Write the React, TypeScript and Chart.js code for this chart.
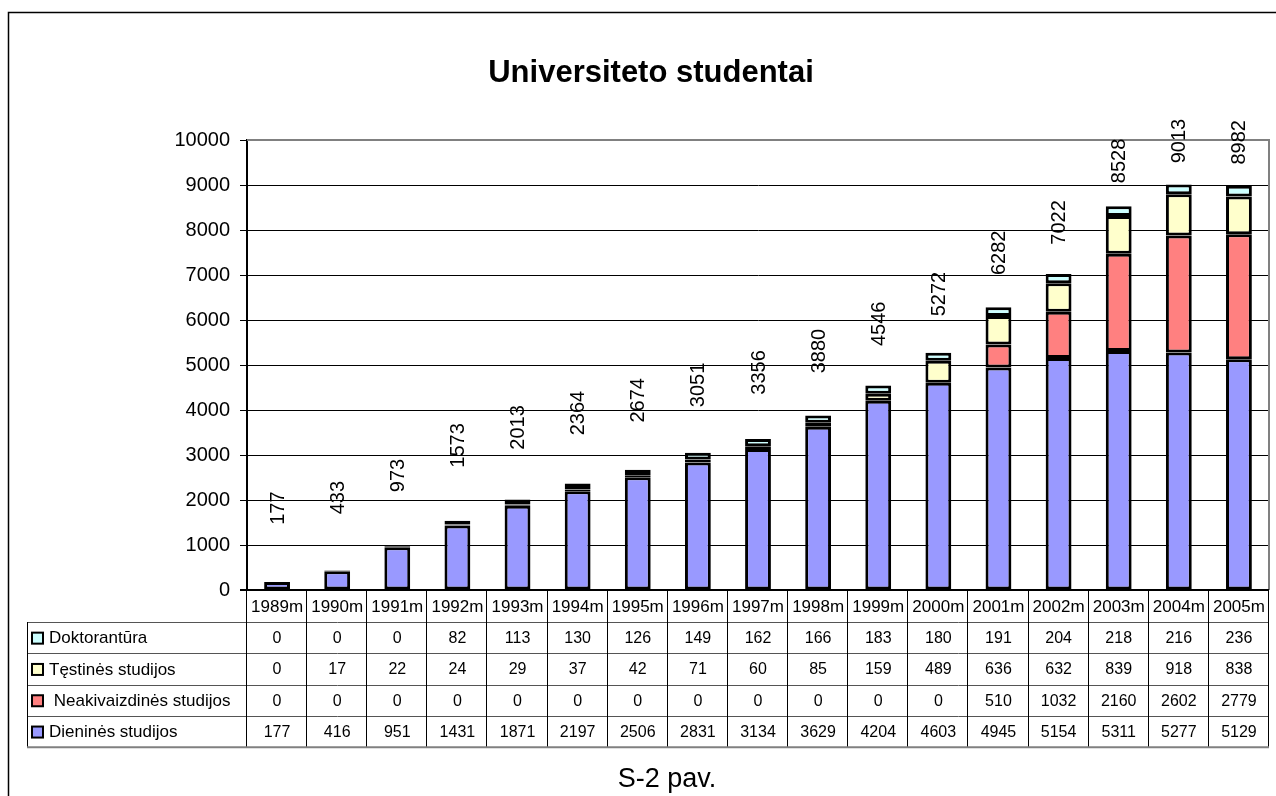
import React, { useEffect, useRef } from 'react';
import { Chart, registerables } from 'chart.js';

Chart.register(...registerables);

const years = ['1989m', '1990m', '1991m', '1992m', '1993m', '1994m', '1995m', '1996m', '1997m', '1998m', '1999m', '2000m', '2001m', '2002m', '2003m', '2004m', '2005m'];
const dieninesStudijos = [177, 416, 951, 1431, 1871, 2197, 2506, 2831, 3134, 3629, 4204, 4603, 4945, 5154, 5311, 5277, 5129];
const neakivaizdinesStudijos = [0, 0, 0, 0, 0, 0, 0, 0, 0, 0, 0, 0, 510, 1032, 2160, 2602, 2779];
const testinesStudijos = [0, 17, 22, 24, 29, 37, 42, 71, 60, 85, 159, 489, 636, 632, 839, 918, 838];
const doktorantura = [0, 0, 0, 82, 113, 130, 126, 149, 162, 166, 183, 180, 191, 204, 218, 216, 236];
const totalLabels = [177, 433, 973, 1573, 2013, 2364, 2674, 3051, 3356, 3880, 4546, 5272, 6282, 7022, 8528, 9013, 8982];
const yMin = 0;
const yMax = 10000;
const yStep = 1000;

const chartTitle = 'Universiteto studentai';
const footerText = 'S-2 pav.';

const seriesNames = ['Dieninės studijos', ' Neakivaizdinės studijos', 'Tęstinės studijos', 'Doktorantūra'];
const seriesColors = ['#9999FF', '#FF8080', '#FFFFCC', '#CCFFFF'];
const seriesData = [dieninesStudijos, neakivaizdinesStudijos, testinesStudijos, doktorantura];

const FONT = '"Liberation Sans", Arial, Helvetica, sans-serif';

const decorPlugin = {
  id: 'decor',
  beforeDraw(chart: any) {
    const ctx = chart.ctx;
    ctx.save();
    ctx.fillStyle = '#ffffff';
    ctx.fillRect(0, 0, chart.width, chart.height);
    ctx.strokeStyle = '#000';
    ctx.lineWidth = 1.5;
    ctx.beginPath();
    ctx.moveTo(8.5, chart.height + 2);
    ctx.lineTo(8.5, 12.5);
    ctx.lineTo(chart.width + 2, 12.5);
    ctx.stroke();
    ctx.restore();
  },
  afterDraw(chart: any) {
    const ctx = chart.ctx;
    const ca = chart.chartArea;
    const xs = chart.scales.x;
    const n = years.length;
    const colW = ca.width / n;
    ctx.save();

    // plot area border (top & right)
    ctx.strokeStyle = '#808080';
    ctx.lineWidth = 2;
    ctx.beginPath();
    ctx.moveTo(ca.left, ca.top);
    ctx.lineTo(ca.right, ca.top);
    ctx.lineTo(ca.right, ca.bottom);
    ctx.stroke();

    // x axis line
    ctx.strokeStyle = '#000';
    ctx.lineWidth = 2;
    ctx.beginPath();
    ctx.moveTo(ca.left - 7, ca.bottom);
    ctx.lineTo(ca.right, ca.bottom);
    ctx.stroke();

    // total labels (rotated)
    const meta = chart.getDatasetMeta(seriesData.length);
    ctx.fillStyle = '#000';
    ctx.font = `20px ${FONT}`;
    ctx.textAlign = 'left';
    ctx.textBaseline = 'middle';
    meta.data.forEach((pt: any, i: number) => {
      ctx.save();
      ctx.translate(xs.getPixelForValue(i) + 1, pt.y - 58);
      ctx.rotate(-Math.PI / 2);
      ctx.fillText(String(totalLabels[i]), 0, 0);
      ctx.restore();
    });

    // data table
    const legendLeft = 27;
    const headerTop = ca.bottom;
    const headerBottom = ca.bottom + 32;
    const rowH = 31.3;
    const tableBottom = headerBottom + rowH * 4;

    ctx.strokeStyle = '#555';
    ctx.lineWidth = 1;
    for (let r = 0; r <= 4; r++) {
      const y = Math.round(headerBottom + r * rowH) + 0.5;
      ctx.beginPath();
      ctx.moveTo(legendLeft, y);
      ctx.lineTo(ca.right, y);
      ctx.stroke();
    }
    ctx.strokeStyle = '#000';
    ctx.beginPath();
    ctx.moveTo(legendLeft + 0.5, headerBottom);
    ctx.lineTo(legendLeft + 0.5, tableBottom);
    ctx.stroke();
    for (let i = 0; i <= n; i++) {
      const x = Math.round(ca.left + i * colW) - 0.5;
      ctx.beginPath();
      ctx.moveTo(x, headerTop);
      ctx.lineTo(x, tableBottom);
      ctx.stroke();
    }
    ctx.strokeStyle = '#808080';
    ctx.lineWidth = 2;
    ctx.beginPath();
    ctx.moveTo(legendLeft, tableBottom);
    ctx.lineTo(ca.right, tableBottom);
    ctx.stroke();

    ctx.fillStyle = '#000';
    ctx.textAlign = 'center';
    ctx.textBaseline = 'middle';
    ctx.font = `17px ${FONT}`;
    years.forEach((yr, i) => {
      ctx.fillText(yr, xs.getPixelForValue(i), (headerTop + headerBottom) / 2 + 1);
    });

    const order = [3, 2, 1, 0];
    order.forEach((s, r) => {
      const cy = headerBottom + r * rowH + rowH / 2 + 1;
      ctx.fillStyle = seriesColors[s];
      ctx.fillRect(32, cy - 6, 11, 11);
      ctx.strokeStyle = '#000';
      ctx.lineWidth = 2;
      ctx.strokeRect(32, cy - 6, 11, 11);
      ctx.fillStyle = '#000';
      ctx.textAlign = 'left';
      ctx.font = `17px ${FONT}`;
      ctx.fillText(seriesNames[s], 49, cy);
      ctx.textAlign = 'center';
      ctx.font = `16px ${FONT}`;
      seriesData[s].forEach((v, i) => {
        ctx.fillText(String(v), xs.getPixelForValue(i), cy);
      });
    });

    // title & footer
    ctx.textAlign = 'center';
    ctx.textBaseline = 'alphabetic';
    ctx.font = `bold 31px ${FONT}`;
    ctx.fillText(chartTitle, 651, 82);
    ctx.font = `27px ${FONT}`;
    ctx.fillText(footerText, 667, 787);

    ctx.restore();
  },
};

export default function App() {
  const canvasRef = useRef<HTMLCanvasElement | null>(null);

  useEffect(() => {
    if (!canvasRef.current) return;
    const datasets: any[] = seriesData.map((d, i) => ({
      type: 'bar',
      label: seriesNames[i],
      data: d,
      backgroundColor: seriesColors[i],
      borderColor: '#000',
      borderWidth: 3,
      borderSkipped: false,
      inflateAmount: 0,
      barPercentage: 0.43,
      categoryPercentage: 1.0,
      yAxisID: 'y',
    }));
    datasets.push({
      type: 'line',
      label: 'Iš viso',
      data: totalLabels,
      yAxisID: 'y2',
      pointRadius: 0,
      showLine: false,
      borderWidth: 0,
    });

    const chart = new Chart(canvasRef.current, {
      type: 'bar',
      data: { labels: years, datasets },
      options: {
        animation: false,
        responsive: false,
        devicePixelRatio: 1,
        events: [],
        layout: { padding: { top: 140, right: 7, bottom: 206, left: 0 } },
        plugins: {
          legend: { display: false },
          title: { display: false },
          tooltip: { enabled: false },
        },
        scales: {
          x: { stacked: true, display: false, offset: true },
          y: {
            stacked: true,
            min: yMin,
            max: yMax,
            ticks: {
              stepSize: yStep,
              color: '#000',
              font: { family: FONT, size: 20 },
              padding: 10,
              callback: (v: any) => String(v),
            },
            grid: { color: '#000', lineWidth: 1, tickLength: 7, drawTicks: true },
            border: { display: true, color: '#000', width: 2 },
            afterFit(scale: any) {
              scale.width = 247;
            },
          },
          y2: { display: false, min: 0, max: 11000, position: 'right' },
        },
      } as any,
      plugins: [decorPlugin],
    });
    return () => chart.destroy();
  }, []);

  return (
    <div style={{ position: 'absolute', left: 0, top: 0, width: 1276, height: 796 }}>
      <canvas ref={canvasRef} width={1276} height={796} style={{ width: 1276, height: 796, display: 'block' }} />
    </div>
  );
}
